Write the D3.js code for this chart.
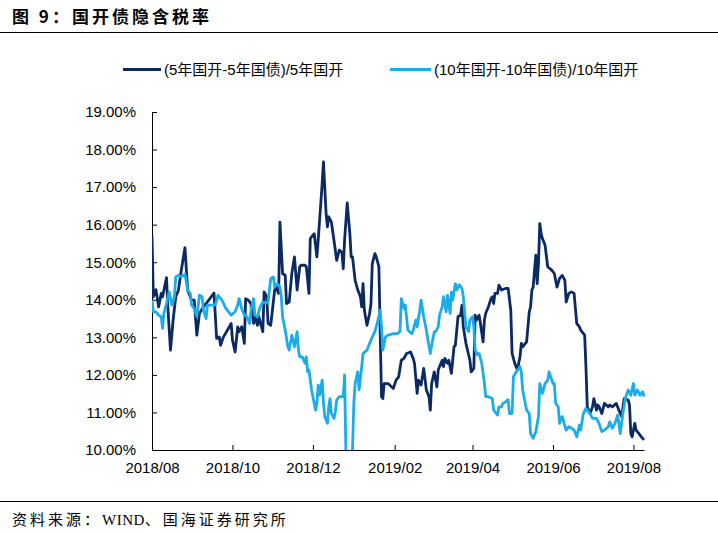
<!DOCTYPE html>
<html><head><meta charset="utf-8">
<script src="https://cdn.jsdelivr.net/npm/d3@7"></script>
<style>
html,body{margin:0;padding:0;background:#fff;}
svg{display:block;}
</style></head>
<body>
<svg id="chart" width="718" height="533"></svg>
<script>
const titleText = "图 9：国开债隐含税率";
const sourceText = "资料来源：WIND、国海证券研究所";
const seriesNames = ["(5年国开-5年国债)/5年国开", "(10年国开-10年国债)/10年国开"];
const yTicks = [10, 11, 12, 13, 14, 15, 16, 17, 18, 19];
const xTickLabels = ["2018/08", "2018/10", "2018/12", "2019/02", "2019/04", "2019/06", "2019/08"];

const dates5 = ["2018-08-01","2018-08-02","2018-08-04","2018-08-06","2018-08-08","2018-08-09","2018-08-12","2018-08-13","2018-08-15","2018-08-17","2018-08-19","2018-08-21","2018-08-23","2018-08-26","2018-08-28","2018-08-31","2018-09-02","2018-09-04","2018-09-06","2018-09-09","2018-09-11","2018-09-17","2018-09-19","2018-09-21","2018-09-22","2018-09-24","2018-09-28","2018-09-30","2018-10-01","2018-10-03","2018-10-05","2018-10-06","2018-10-08","2018-10-10","2018-10-11","2018-10-13","2018-10-15","2018-10-17","2018-10-18","2018-10-20","2018-10-21","2018-10-23","2018-10-24","2018-10-25","2018-10-27","2018-10-28","2018-10-30","2018-11-02","2018-11-03","2018-11-05","2018-11-06","2018-11-08","2018-11-10","2018-11-11","2018-11-13","2018-11-15","2018-11-17","2018-11-19","2018-11-21","2018-11-22","2018-11-25","2018-11-26","2018-11-28","2018-11-29","2018-12-01","2018-12-02","2018-12-04","2018-12-05","2018-12-08","2018-12-09","2018-12-11","2018-12-12","2018-12-13","2018-12-15","2018-12-18","2018-12-19","2018-12-21","2018-12-23","2018-12-24","2018-12-25","2018-12-27","2018-12-29","2018-12-30","2018-12-31","2019-01-02","2019-01-04","2019-01-06","2019-01-07","2019-01-08","2019-01-09","2019-01-11","2019-01-13","2019-01-14","2019-01-15","2019-01-17","2019-01-18","2019-01-20","2019-01-22","2019-01-23","2019-01-24","2019-01-27","2019-01-31","2019-02-02","2019-02-04","2019-02-06","2019-02-08","2019-02-10","2019-02-13","2019-02-15","2019-02-16","2019-02-18","2019-02-19","2019-02-21","2019-02-23","2019-02-25","2019-02-27","2019-02-28","2019-03-01","2019-03-03","2019-03-05","2019-03-06","2019-03-09","2019-03-10","2019-03-11","2019-03-13","2019-03-14","2019-03-16","2019-03-18","2019-03-19","2019-03-21","2019-03-23","2019-03-24","2019-03-25","2019-03-27","2019-03-30","2019-03-31","2019-04-02","2019-04-03","2019-04-04","2019-04-06","2019-04-07","2019-04-09","2019-04-10","2019-04-11","2019-04-13","2019-04-15","2019-04-16","2019-04-17","2019-04-18","2019-04-20","2019-04-21","2019-04-23","2019-04-26","2019-04-28","2019-04-30","2019-05-01","2019-05-03","2019-05-05","2019-05-06","2019-05-07","2019-05-08","2019-05-09","2019-05-10","2019-05-12","2019-05-14","2019-05-15","2019-05-16","2019-05-17","2019-05-18","2019-05-19","2019-05-20","2019-05-21","2019-05-22","2019-05-23","2019-05-24","2019-05-26","2019-05-28","2019-05-31","2019-06-02","2019-06-04","2019-06-06","2019-06-08","2019-06-10","2019-06-11","2019-06-13","2019-06-15","2019-06-17","2019-06-19","2019-06-21","2019-06-22","2019-06-25","2019-06-26","2019-06-27","2019-06-29","2019-07-01","2019-07-02","2019-07-04","2019-07-05","2019-07-06","2019-07-08","2019-07-10","2019-07-13","2019-07-14","2019-07-16","2019-07-19","2019-07-21","2019-07-23","2019-07-25","2019-07-28","2019-07-29","2019-07-30","2019-07-31","2019-08-02","2019-08-03","2019-08-05","2019-08-07","2019-08-09"];
const values5 = [15.72,14.08,14.27,13.81,14.17,14.08,14.59,13.81,12.66,13.46,14.08,14.25,14.74,15.39,14.26,13.99,13.99,13.06,13.64,13.81,13.90,14.18,12.97,13.01,12.79,13.00,13.24,13.37,12.93,12.61,13.28,13.15,13.28,12.84,14.03,13.99,13.90,13.37,13.55,13.32,13.55,13.28,13.15,14.21,14.08,13.37,13.32,14.26,14.34,14.17,16.07,14.70,14.65,13.90,13.94,14.70,15.14,14.26,14.88,14.92,14.92,14.88,14.17,15.63,15.72,15.76,15.14,15.59,17.09,17.67,16.29,15.94,16.21,16.07,15.32,15.05,15.32,15.27,14.83,15.59,16.58,15.76,15.14,15.14,14.52,14.26,14.08,13.81,14.43,13.72,13.32,13.64,13.90,14.96,15.23,15.14,14.88,11.42,11.37,11.77,11.77,11.64,11.86,11.95,12.39,12.44,12.57,12.61,12.44,12.31,11.51,11.86,11.73,12.17,11.60,11.42,11.06,11.77,12.08,11.68,12.13,12.39,12.22,12.44,12.31,12.39,12.04,12.75,12.79,13.55,13.59,13.86,13.28,12.84,12.39,12.08,12.17,13.59,13.46,13.59,13.37,12.88,13.46,13.64,13.81,14.03,14.08,13.90,14.17,14.17,14.39,14.26,14.30,14.30,13.72,12.57,12.31,12.13,12.31,12.48,12.84,12.75,12.79,12.88,13.68,13.81,14.26,14.34,14.79,15.19,14.43,14.96,16.03,15.76,15.63,15.45,14.88,14.79,14.70,14.34,14.57,14.65,14.52,13.94,14.17,14.21,14.17,13.37,13.28,13.19,13.06,12.20,11.15,10.97,11.15,11.37,11.06,11.20,11.15,10.97,11.24,11.15,11.20,11.15,11.24,11.06,10.89,11.37,11.33,11.20,10.44,10.35,10.71,10.53,10.44,10.35,10.27];

const dates10 = ["2018-08-01","2018-08-02","2018-08-04","2018-08-06","2018-08-08","2018-08-09","2018-08-10","2018-08-12","2018-08-14","2018-08-16","2018-08-18","2018-08-19","2018-08-21","2018-08-23","2018-08-25","2018-08-26","2018-08-28","2018-08-30","2018-08-31","2018-09-02","2018-09-04","2018-09-06","2018-09-08","2018-09-09","2018-09-11","2018-09-12","2018-09-15","2018-09-18","2018-09-20","2018-09-23","2018-09-26","2018-09-30","2018-10-03","2018-10-05","2018-10-06","2018-10-08","2018-10-10","2018-10-12","2018-10-14","2018-10-15","2018-10-17","2018-10-18","2018-10-20","2018-10-22","2018-10-24","2018-10-27","2018-10-28","2018-10-30","2018-11-01","2018-11-02","2018-11-04","2018-11-06","2018-11-07","2018-11-08","2018-11-10","2018-11-12","2018-11-13","2018-11-15","2018-11-17","2018-11-19","2018-11-20","2018-11-21","2018-11-23","2018-11-25","2018-11-26","2018-11-27","2018-11-28","2018-11-30","2018-12-01","2018-12-03","2018-12-04","2018-12-05","2018-12-06","2018-12-08","2018-12-09","2018-12-10","2018-12-12","2018-12-13","2018-12-14","2018-12-15","2018-12-17","2018-12-18","2018-12-19","2018-12-21","2018-12-24","2018-12-25","2018-12-26","2018-12-28","2018-12-29","2018-12-30","2018-12-31","2019-01-01","2019-01-02","2019-01-04","2019-01-05","2019-01-07","2019-01-08","2019-01-11","2019-01-13","2019-01-15","2019-01-17","2019-01-19","2019-01-21","2019-01-22","2019-01-23","2019-01-25","2019-01-27","2019-01-31","2019-02-03","2019-02-05","2019-02-06","2019-02-08","2019-02-09","2019-02-11","2019-02-14","2019-02-15","2019-02-17","2019-02-18","2019-02-20","2019-02-21","2019-02-23","2019-02-25","2019-02-26","2019-02-28","2019-03-01","2019-03-03","2019-03-04","2019-03-06","2019-03-07","2019-03-09","2019-03-10","2019-03-12","2019-03-13","2019-03-15","2019-03-16","2019-03-17","2019-03-19","2019-03-20","2019-03-22","2019-03-24","2019-03-25","2019-03-27","2019-03-29","2019-03-30","2019-04-01","2019-04-02","2019-04-03","2019-04-05","2019-04-06","2019-04-08","2019-04-10","2019-04-11","2019-04-13","2019-04-16","2019-04-17","2019-04-20","2019-04-21","2019-04-23","2019-04-24","2019-04-26","2019-04-28","2019-04-29","2019-05-01","2019-05-02","2019-05-05","2019-05-07","2019-05-08","2019-05-09","2019-05-12","2019-05-14","2019-05-15","2019-05-17","2019-05-19","2019-05-21","2019-05-22","2019-05-24","2019-05-26","2019-05-28","2019-05-29","2019-06-01","2019-06-02","2019-06-03","2019-06-05","2019-06-06","2019-06-08","2019-06-11","2019-06-13","2019-06-15","2019-06-17","2019-06-19","2019-06-21","2019-06-22","2019-06-24","2019-06-26","2019-06-29","2019-07-01","2019-07-04","2019-07-06","2019-07-08","2019-07-10","2019-07-13","2019-07-14","2019-07-16","2019-07-18","2019-07-20","2019-07-22","2019-07-24","2019-07-26","2019-07-28","2019-07-30","2019-08-01","2019-08-02","2019-08-04","2019-08-06","2019-08-08","2019-08-09"];
const values10 = [13.99,13.68,13.68,13.59,13.55,13.24,13.64,13.90,14.21,13.86,14.08,14.61,14.65,14.61,14.65,14.69,14.26,14.17,13.86,13.77,13.55,14.12,14.08,13.72,13.50,13.86,13.86,13.86,14.12,13.99,13.77,13.59,13.68,13.86,14.03,13.77,13.59,13.55,13.37,13.72,14.03,13.59,13.55,13.81,13.94,13.92,13.94,14.56,14.61,14.34,14.43,14.34,14.08,13.55,13.19,12.75,12.66,13.06,12.75,13.15,12.66,12.48,12.48,12.31,12.48,12.08,12.13,11.60,11.42,11.06,11.24,11.73,11.46,11.86,11.24,10.89,10.71,11.15,11.37,10.97,10.84,11.02,11.33,11.42,11.42,12.00,9.95,9.90,9.90,9.95,10.00,11.24,11.77,12.08,11.60,12.22,12.57,12.66,12.84,13.01,13.15,13.41,13.72,13.28,12.66,13.01,13.06,13.10,13.10,13.15,14.03,13.77,13.86,13.19,13.10,13.19,13.46,13.28,13.72,13.99,13.55,13.19,12.97,12.57,12.79,13.15,13.15,13.28,13.59,13.81,14.08,13.68,14.12,13.64,14.20,13.99,14.43,14.26,14.40,14.30,14.08,13.28,13.15,13.46,13.55,13.28,12.66,12.53,12.57,12.31,11.77,11.42,11.42,11.37,11.06,10.93,11.15,11.15,11.24,11.28,11.34,10.97,10.97,11.95,12.13,12.22,12.08,11.60,11.06,10.97,10.44,10.31,10.49,10.89,11.77,11.51,11.77,11.86,12.08,11.77,11.77,11.24,11.15,10.71,10.89,10.53,10.62,10.58,10.53,10.35,10.66,10.53,10.97,11.11,10.97,10.84,10.84,10.70,10.49,10.53,10.62,10.75,10.58,10.71,10.93,10.44,10.97,11.40,11.60,11.46,11.77,11.46,11.60,11.46,11.55,11.42];

const colors = ["#0b2a63", "#1aade8"];

const parse = d3.utcParse("%Y-%m-%d");
const parseTick = d3.utcParse("%Y/%m");
const s5 = dates5.map((d, i) => ({date: parse(d), value: values5[i]}));
const s10 = dates10.map((d, i) => ({date: parse(d), value: values10[i]}));

const svg = d3.select("#chart");
const plot = {left: 152, right: 644, top: 112, bottom: 450};

const x = d3.scaleUtc()
  .domain([parse(dates5[0]), parse(dates5[dates5.length - 1])])
  .range([plot.left, plot.right]);
const y = d3.scaleLinear().domain([10, 19]).range([plot.bottom, plot.top]);

// Title
svg.append("text")
  .attr("x", 12).attr("y", 23)
  .attr("font-family", "'Noto Sans CJK SC', sans-serif")
  .attr("font-weight", "bold")
  .attr("font-size", 17)
  .attr("letter-spacing", 3)
  .attr("fill", "#000")
  .attr("xml:space", "preserve")
  .text(titleText);

svg.append("line").attr("x1", 0).attr("x2", 718).attr("y1", 32.5).attr("y2", 32.5)
  .attr("stroke", "#000").attr("stroke-width", 1.2);
svg.append("line").attr("x1", 0).attr("x2", 718).attr("y1", 501.5).attr("y2", 501.5)
  .attr("stroke", "#000").attr("stroke-width", 1.2);

// Source
const src = svg.append("text")
  .attr("x", 12).attr("y", 525)
  .attr("font-family", "'Noto Sans CJK SC', sans-serif")
  .attr("font-size", 15)
  .attr("letter-spacing", 3)
  .attr("fill", "#000");
src.append("tspan").text(sourceText.slice(0, 5));
src.append("tspan").attr("font-family", "'Liberation Serif', serif").attr("letter-spacing", 0.5).text(sourceText.slice(5, 9));
src.append("tspan").text(sourceText.slice(9));

// Legend
const legendPos = [{x1: 123, x2: 161, tx: 164}, {x1: 390, x2: 431, tx: 434}];
seriesNames.forEach((name, i) => {
  const g = svg.append("g");
  g.append("line").attr("x1", legendPos[i].x1).attr("x2", legendPos[i].x2)
    .attr("y1", 69.5).attr("y2", 69.5)
    .attr("stroke", colors[i]).attr("stroke-width", 3);
  g.append("text").attr("x", legendPos[i].tx).attr("y", 75)
    .attr("font-family", "'Liberation Sans', 'Noto Sans CJK SC', sans-serif")
    .attr("font-size", 15).attr("fill", "#000")
    .text(name);
});

// Axes
const yAxis = d3.axisLeft(y).tickValues(yTicks)
  .tickFormat(d => d3.format(".2f")(d) + "%")
  .tickSizeInner(-5).tickSizeOuter(0).tickPadding(16);
const gy = svg.append("g").attr("transform", `translate(${plot.left},0)`).call(yAxis);
gy.selectAll("text").attr("font-family", "'Liberation Sans', Arial, sans-serif").attr("font-size", 15).attr("fill", "#000");
gy.selectAll("line,path").attr("stroke", "#000");

const xAxis = d3.axisBottom(x).tickValues(xTickLabels.map(parseTick))
  .tickFormat(d3.utcFormat("%Y/%m"))
  .tickSizeInner(-5).tickSizeOuter(0).tickPadding(12);
const gx = svg.append("g").attr("transform", `translate(0,${plot.bottom})`).call(xAxis);
gx.selectAll("text").attr("font-family", "'Liberation Sans', Arial, sans-serif").attr("font-size", 15).attr("fill", "#000");
gx.selectAll("line,path").attr("stroke", "#000");

// Clip
svg.append("clipPath").attr("id", "clip").append("rect")
  .attr("x", plot.left).attr("y", plot.top - 5)
  .attr("width", plot.right - plot.left + 5).attr("height", plot.bottom - plot.top + 5);

const line = d3.line().x(d => x(d.date)).y(d => y(d.value));
const lines = svg.append("g").attr("clip-path", "url(#clip)");
[s5, s10].forEach((s, i) => {
  lines.append("path").datum(s)
    .attr("fill", "none")
    .attr("stroke", colors[i])
    .attr("stroke-width", 2.8)
    .attr("stroke-linejoin", "round")
    .attr("d", line);
});
</script>
</body></html>
